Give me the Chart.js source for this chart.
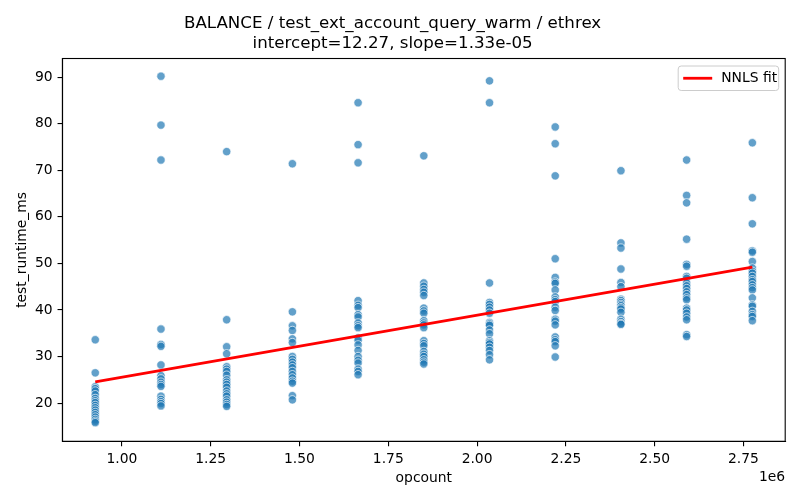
<!DOCTYPE html>
<html>
<head>
<meta charset="utf-8">
<script src="https://cdn.jsdelivr.net/npm/chart.js@4.4.1/dist/chart.umd.min.js"></script>
<style>
  html, body { margin: 0; padding: 0; background: #fff; }
  #wrap { width: 800px; height: 500px; position: relative; }
</style>
</head>
<body>
<div id="wrap"><canvas id="chart"></canvas></div>
<script>
// opcount columns (x)
const opcounts = [925000, 1110000, 1295000, 1480000, 1665000, 1850000, 2035000, 2220000, 2405000, 2590000, 2775000];

// test_runtime_ms per opcount column
const rt0925 = [33.6, 26.5, 23.5, 23.1, 22.6, 21.8, 21.0, 20.5, 20.1, 19.5, 19.0, 18.5, 18.0, 17.5, 17.0, 16.5, 16.1, 15.8];
const rt1110 = [90.2, 79.7, 72.2, 35.9, 32.6, 32.2, 28.2, 25.9, 25.2, 24.5, 24.0, 23.6, 21.5, 20.8, 20.3, 19.9, 19.4];
const rt1295 = [74.0, 37.9, 32.1, 30.6, 27.8, 27.3, 26.8, 26.0, 25.0, 24.5, 24.0, 23.4, 22.6, 22.0, 21.5, 20.7, 20.2, 19.7, 19.3];
const rt1480 = [71.4, 39.6, 36.6, 35.6, 33.8, 33.0, 30.0, 29.4, 28.8, 28.2, 27.6, 26.8, 26.1, 25.4, 24.7, 24.3, 21.6, 20.7];
const rt1665 = [84.5, 75.5, 71.6, 42.0, 41.0, 40.5, 39.0, 38.5, 37.2, 36.6, 36.2, 34.0, 33.5, 32.5, 31.3, 30.0, 29.2, 28.6, 27.3, 26.8, 26.1];
const rt1850 = [73.1, 45.8, 45.1, 44.4, 43.8, 43.1, 40.4, 39.8, 39.3, 37.7, 37.2, 36.8, 36.2, 33.4, 32.8, 32.3, 31.1, 30.5, 30.0, 29.3, 28.8, 28.4];
const rt2035 = [89.2, 84.5, 45.8, 41.6, 41.2, 40.6, 40.0, 39.3, 37.3, 37.0, 36.7, 35.7, 34.9, 33.4, 33.0, 32.7, 32.0, 31.3, 30.4, 29.3];
const rt2220 = [79.3, 75.7, 68.8, 51.0, 47.0, 46.0, 45.7, 44.3, 42.8, 42.2, 41.8, 40.6, 39.9, 38.0, 37.6, 36.8, 34.2, 33.6, 33.2, 32.3, 29.9];
const rt2405 = [69.9, 54.4, 53.3, 48.8, 45.9, 45.0, 42.3, 42.0, 41.6, 41.2, 40.9, 40.5, 40.2, 39.5, 38.0, 37.5, 37.1, 36.9];
const rt2590 = [72.2, 64.6, 63.0, 55.2, 49.8, 49.4, 47.2, 46.8, 45.8, 45.2, 44.6, 43.9, 43.3, 42.6, 42.2, 40.4, 40.0, 39.3, 38.5, 37.9, 34.7, 34.3];
const rt2775 = [75.9, 64.1, 58.5, 52.7, 52.4, 50.4, 49.0, 48.3, 47.9, 47.2, 46.5, 46.1, 45.4, 44.8, 44.3, 42.6, 41.1, 40.8, 39.7, 39.0, 38.6, 37.7];

const runtimes = [rt0925, rt1110, rt1295, rt1480, rt1665, rt1850, rt2035, rt2220, rt2405, rt2590, rt2775];

// NNLS fit line endpoints (intercept=12.27, slope=1.33e-05)
const fitX = [925000, 2775000];
const fitY = [24.57, 49.18];

const xTicks = [1000000, 1250000, 1500000, 1750000, 2000000, 2250000, 2500000, 2750000];
const yTicks = [20, 30, 40, 50, 60, 70, 80, 90];

const titleLines = ['BALANCE / test_ext_account_query_warm / ethrex', 'intercept=12.27, slope=1.33e-05'];

const FONT = "'DejaVu Sans', sans-serif";
const tickFont = { family: FONT, size: 13.89 };

// build scatter points
let points = [];
for (let i = 0; i < opcounts.length; i++) {
  runtimes[i].forEach(v => points.push({ x: opcounts[i], y: v }));
}
const fitPoints = fitX.map((x, i) => ({ x: x, y: fitY[i] }));

// axes frame + legend + offset text
const extras = {
  id: 'extras',
  afterDraw(chart) {
    const { ctx, chartArea: a } = chart;
    ctx.save();
    ctx.strokeStyle = '#000';
    ctx.lineWidth = 1.1;
    ctx.strokeRect(a.left, a.top, a.right - a.left, a.bottom - a.top);

    // legend box (upper right)
    const bx = a.right - 107, by = a.top + 7.5, bw = 100.5, bh = 24.5;
    ctx.beginPath();
    ctx.roundRect(bx, by, bw, bh, 3);
    ctx.fillStyle = 'rgba(255,255,255,0.8)';
    ctx.fill();
    ctx.strokeStyle = '#cccccc';
    ctx.lineWidth = 1;
    ctx.stroke();
    ctx.beginPath();
    ctx.moveTo(bx + 5, by + bh / 2);
    ctx.lineTo(bx + 34, by + bh / 2);
    ctx.strokeStyle = '#ff0000';
    ctx.lineWidth = 2.8;
    ctx.stroke();
    ctx.fillStyle = '#000';
    ctx.font = '13.89px ' + FONT;
    ctx.textBaseline = 'middle';
    ctx.textAlign = 'left';
    ctx.fillText(chart.data.datasets[1].label, bx + 43, by + bh / 2);

    // x offset text
    ctx.textAlign = 'right';
    ctx.fillText('1e6', a.right, 477);
    ctx.restore();
  }
};

new Chart(document.getElementById('chart'), {
  type: 'scatter',
  data: {
    datasets: [
      {
        label: 'points',
        data: points,
        pointRadius: 4.2,
        pointBackgroundColor: 'rgba(31,119,180,0.7)',
        pointBorderColor: 'rgba(255,255,255,0.75)',
        pointBorderWidth: 0.9,
        order: 2
      },
      {
        label: 'NNLS fit',
        type: 'line',
        data: fitPoints,
        borderColor: '#ff0000',
        borderWidth: 2.8,
        pointRadius: 0,
        fill: false,
        order: 1
      }
    ]
  },
  plugins: [extras],
  options: {
    responsive: true,
    maintainAspectRatio: false,
    animation: false,
    events: [],
    layout: { padding: { left: 0, right: 14.8, top: 0, bottom: 0 } },
    plugins: {
      legend: { display: false },
      tooltip: { enabled: false },
      title: {
        display: true,
        text: titleLines,
        color: '#000',
        font: { family: FONT, size: 16.67, weight: 'normal', lineHeight: 1.2 },
        padding: { top: 14, bottom: 4.5 }
      }
    },
    scales: {
      x: {
        type: 'linear',
        min: 832500,
        max: 2867500,
        afterBuildTicks: s => { s.ticks = xTicks.map(v => ({ value: v })); },
        afterFit: s => { s.height = 58.7; },
        ticks: {
          font: tickFont,
          color: '#000',
          padding: 4.86,
          maxRotation: 0,
          callback: v => (v / 1e6).toFixed(2)
        },
        grid: { drawOnChartArea: false, drawTicks: true, tickLength: 4.86, color: '#000', lineWidth: 1.1 },
        border: { display: true, color: '#000', width: 1.1 },
        title: {
          display: true,
          text: 'opcount',
          color: '#000',
          font: { family: FONT, size: 13.89, lineHeight: 1.2 },
          padding: { top: 0, bottom: 13.7 }
        }
      },
      y: {
        type: 'linear',
        min: 11.8,
        max: 94.0,
        afterBuildTicks: s => { s.ticks = yTicks.map(v => ({ value: v })); },
        afterFit: s => { s.width = 62.4; },
        ticks: {
          font: tickFont,
          color: '#000',
          padding: 4.86
        },
        grid: { drawOnChartArea: false, drawTicks: true, tickLength: 4.86, color: '#000', lineWidth: 1.1 },
        border: { display: true, color: '#000', width: 1.1 },
        title: {
          display: true,
          text: 'test_runtime_ms',
          color: '#000',
          font: { family: FONT, size: 13.89, lineHeight: 1.2 },
          padding: { top: 14.3, bottom: 0 }
        }
      }
    }
  }
});
</script>
</body>
</html>
